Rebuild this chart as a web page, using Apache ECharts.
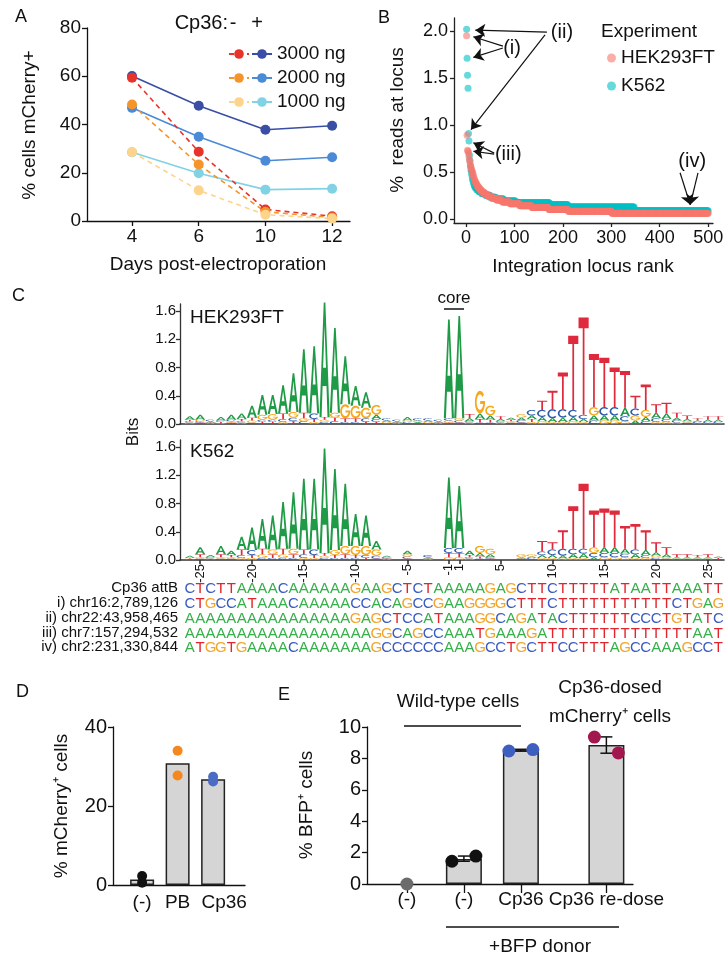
<!DOCTYPE html>
<html><head><meta charset="utf-8">
<script src="https://cdn.jsdelivr.net/npm/echarts@6/dist/echarts.min.js"></script>
<style>html,body{margin:0;padding:0;background:#fff}#c{width:726px;height:957px}</style>
</head><body><div id="c"></div>
<script>
// ===================== DATA =====================
// Panel A
const daysA = ['4', '6', '10', '12'];
const doseNames = ['3000 ng', '2000 ng', '1000 ng'];
const plus3000 = [60.1, 47.8, 37.8, 39.5];
const plus2000 = [46.9, 34.9, 25.0, 26.4];
const plus1000 = [28.5, 19.8, 13.0, 13.4];
const minus3000 = [59.4, 28.7, 4.8, 2.0];
const minus2000 = [48.3, 23.4, 3.8, 1.5];
const minus1000 = [28.6, 12.7, 2.6, 1.0];
const ticksA = [0, 20, 40, 60, 80];

// Panel B (runs of [% reads, number of loci], in rank order)
const hekRuns = [[1.95,1],[0.89,1],[0.73,1],[0.72,1],[0.70,1],[0.66,1],[0.63,1],[0.60,1],[0.57,1],[0.55,1],[0.53,1],[0.51,1],[0.50,1],[0.48,1],[0.46,1],[0.44,1],[0.42,1],
  [0.40,2],[0.38,2],[0.36,2],[0.34,3],[0.32,3],[0.30,4],[0.28,5],[0.26,6],[0.24,8],[0.22,10],[0.20,12],[0.18,16],[0.16,20],[0.14,25],[0.12,35],[0.10,40],[0.08,90],[0.06,200]];
const k562Runs = [[2.02,1],[1.71,1],[1.53,1],[1.39,1],[0.91,1],[0.83,1],[0.68,1],[0.62,1],[0.56,1],[0.52,1],[0.49,1],[0.46,1],[0.43,1],[0.41,1],[0.39,1],[0.37,1],
  [0.35,2],[0.33,3],[0.31,4],[0.29,6],[0.27,8],[0.25,10],[0.23,12],[0.21,16],[0.19,25],[0.17,70],[0.15,38],[0.125,137],[0.085,153]];
const rankTicks = [0, 100, 200, 300, 400, 500];
const readsTicks = [0, 0.5, 1.0, 1.5, 2.0];

// Panel C (letter heights in bits x100, per position -26..-1, 1..26)
const logoPositions = [-26,-25,-24,-23,-22,-21,-20,-19,-18,-17,-16,-15,-14,-13,-12,-11,-10,-9,-8,-7,-6,-5,-4,-3,-2,-1,
  1,2,3,4,5,6,7,8,9,10,11,12,13,14,15,16,17,18,19,20,21,22,23,24,25,26];
const logoTickPos = [-25,-20,-15,-10,-5,-1,1,5,10,15,20,25];
const bitsTicks = [0, 0.4, 0.8, 1.2, 1.6];
const logoHEK = [
  "A5 G2 C2 T2","A7 T2 C2 G2","A2 C2 G1 T1","A5 T2 C2 G1","A7 T2 G2 C2","A8 T3 G2 C2",
  "A17 T4 G3 C2","A28 G7 T3 C3","A27 G8 T3 C3","A40 T8 C4 G3","A55 G8 C5 T4","A90 T8 C4 G4",
  "A95 C8 T4 G3","A162 T4 C3 G3","A120 G7 T5 C4","A68 G20 T5 C3","A28 G18 T5 C3","A22 G15 C5 T3",
  "G14 A6 C4 T3","C3 G2 A2 T1","A2 C2 G1 T1","A5 C2 G2 T1","C3 A2 G2 T1","C3 G2 A2 T1","A2 C2 G1 T1",
  "A140 G3 C3 T2",
  "A145 C3 G3 T2","T6 A4 G2 C2","G32 A8 T5 C2","G14 A6 T4 C2","T4 A3 G2 C2","A3 C2 G2 T2",
  "G5 A4 C3 T2","C8 A5 T4 G3","T13 C10 A6 G4","T26 C13 A5 G3","T52 C12 A6 G3","T105 C10 A6 G4",
  "T138 C6 A4 G3","T75 G12 A7 C5","T70 C12 A7 G5","T56 C12 A7 G5","T52 A12 C7 G4","T18 C10 G7 A5",
  "T36 G10 A6 C4","T12 A8 C5 G3","T15 A8 C4 G3","T7 A4 C3 G2","T5 A3 C2 G2","T3 C2 A2 G1","T5 A3 C2 G1","T5 A3 C2 G1"];
const logoK562 = [
  "A3 C1 G1 T1","A10 T4 C2 G2","A3 C2 T1 G1","A12 T4 C2 G2","A6 T3 C2 G2","A18 T8 C4 G3",
  "A32 C7 T4 G3","A42 T8 G5 C3","A48 G7 T5 C3","A66 T8 G5 C3","A80 G8 T5 C3","A100 T7 C5 G3",
  "A100 C8 T4 G3","A148 T4 C3 G3","A115 G7 T4 C3","A88 G12 T5 C3","A45 G13 T4 C3","A43 G13 C4 T3",
  "A12 G9 C4 T2","C2 A2 G1 T1","A1","A5 C3 G3 T2","A1","C3 A2 G1 T1","A1",
  "A100 C7 T6 G4",
  "A88 C7 T6 G4","A6 T3 G2 C2","G10 A5 T3 C2","G8 A4 T2 C2","A1","A1",
  "G4 A2 C1 T1","G3 C2 A2 T1","T15 C5 A4 G3","T10 C8 A4 G3","T26 C10 A4 G2","T60 C8 A5 G3",
  "T92 C7 A6 G3","T52 G8 C6 A4","T55 A8 C6 G4","T52 A8 C6 G4","T32 A7 C5 G4","T36 C7 A5 G3",
  "T28 A7 C4 G3","T14 A5 C3 G3","T10 A4 C2 G2","T4 A2 C1 G1","T4 A2 C1 G1","T3 A2 C1 G1","T4 A2 C1 G1","T2 A2 C1"];
const seqNames = ['Cp36 attB', 'i) chr16:2,789,126', 'ii) chr22:43,958,465', 'iii) chr7:157,294,532', 'iv) chr2:231,330,844'];
const seqs = [
  'CTCTTAAAACAAAAAAGAAGCTCTAAAAAGAGCTTCTTTTTATAATTAAATT',
  'CTGCCATAAACAAAAACCACAGCCGAAGGGGCTTTCTTTTTTTTTTTCTGAG',
  'AAAAAAAAAAAAAAAAGAGCTCCATAAAGGCAGATACTTTTTTCCCTGTATC',
  'AAAAAAAAAAAAAAAAAAGGCAGCCAAATGAAAGATTTTTTTTTTTTTTAAT',
  'ATGGTGAAAACAAAAAAAGCCCCCCAAAGCCTGCTTCCTTTAGCCAAAGCCT'];

// Panel D
const dCats = ['(-)', 'PB', 'Cp36'];
const dBars = [1.4, 30.8, 26.8];
const dPoints = [[2.3, 0.6], [34.0, 27.7], [27.4, 26.2]];
const dTicks = [0, 20, 40];

// Panel E
const eCats = ['(-)', '(-)', 'Cp36', 'Cp36 re-dose'];
const eBars = [null, 1.6, 8.52, 8.85];
const ePoints = [[0], [1.45, 1.78], [8.47, 8.56], [9.36, 8.35]];
const eErr = [null, [1.45, 1.78], [8.47, 8.58], [8.33, 9.37]];
const eTicks = [0, 2, 4, 6, 8, 10];

// ===================== LAYOUT / STYLE =====================
const FONT = "'Liberation Sans', Arial, Helvetica, sans-serif";
const INK = '#111';
const E_SLOT = [0, 1, 2, 3.5];          // horizontal slot of each E category
const JIT = [-0.21, 0.21];              // dot spread within a bar (E)
const LETTERS = 'ACGT';
const LOGO_COL = ['#1f9a46', '#2b5bab', '#f5a81c', '#de2a3c'];
const SEQ_COL = ['#35b04a', '#3a5cc2', '#f2a52a', '#e2242c'];

function expandRuns(runs) { const out = []; let r = 1; runs.forEach(([v, n]) => { for (let k = 0; k < n; k++) out.push([r++, v]); }); return out; }

// glyph outlines in a unit box (y down)
function arc(cx, cy, rx, ry, a0, a1, n) { const p = []; for (let k = 0; k <= n; k++) { const a = (a0 + (a1 - a0) * k / n) * Math.PI / 180; p.push([cx + rx * Math.cos(a), cy - ry * Math.sin(a)]); } return p; }
function area(p) { let s = 0; for (let i = 0; i < p.length; i++) { const a = p[i], b = p[(i + 1) % p.length]; s += a[0] * b[1] - b[0] * a[1]; } return s; }
const gA_outer = [[0,1],[0.42,0],[0.58,0],[1,1],[0.79,1],[0.69,0.73],[0.31,0.73],[0.21,1]];
let gA_hole = [[0.36,0.57],[0.64,0.57],[0.5,0.2]];
if (Math.sign(area(gA_outer)) === Math.sign(area(gA_hole))) gA_hole = gA_hole.slice().reverse();
const gC = arc(0.5,0.5,0.5,0.5,42,318,36).concat(arc(0.5,0.5,0.33,0.34,318,42,36));
const gG = arc(0.5,0.5,0.5,0.5,40,356,36).concat([[1,0.45],[0.52,0.45],[0.52,0.58],[0.83,0.58]]).concat(arc(0.5,0.5,0.33,0.34,346,40,36));
const gT = [[0,0],[1,0],[1,0.11],[0.585,0.11],[0.585,1],[0.415,1],[0.415,0.11],[0,0.11]];
const GLYPH = [[gA_outer, gA_hole], [gC], [gG], [gT]];

function logoItems(cols) {
  const out = [];
  cols.forEach((s, i) => {
    const parts = s.trim().split(/\s+/).filter(Boolean).map(t => ({ l: LETTERS.indexOf(t[0]), h: +t.slice(1) / 100 }));
    parts.sort((a, b) => a.h - b.h);
    let y = 0;
    parts.forEach(p => { out.push([i, y, y + p.h, p.l]); y += p.h; });
  });
  return out;
}
function renderLetter(params, api) {
  const i = api.value(0), y0 = api.value(1), y1 = api.value(2), L = api.value(3);
  const pb = api.coord([i, y0]), pt = api.coord([i, y1]);
  const w = api.size([1, 0])[0] * 0.98;
  const x0 = pb[0] - w / 2, top = pt[1], h = pb[1] - pt[1];
  if (h < 0.4) return null;
  let d = '';
  GLYPH[L].forEach(poly => { d += 'M' + poly.map(p => (x0 + p[0] * w).toFixed(2) + ',' + (top + p[1] * h).toFixed(2)).join('L') + 'Z'; });
  return { type: 'path', shape: { pathData: d }, style: { fill: LOGO_COL[L] } };
}

function txt(x, y, text, size, o = {}) {
  return { type: 'text', x, y, rotation: o.rot || 0, silent: true, z: 100,
    style: { text, font: `${o.weight || 'normal'} ${size}px ${FONT}`, fill: o.fill || INK, textAlign: o.align || 'center', textVerticalAlign: o.va || 'middle' } };
}
function hline(x1, y, x2, w) { return { type: 'line', silent: true, z: 100, shape: { x1, y1: y, x2, y2: y }, style: { stroke: INK, lineWidth: w || 1.3 } }; }

function vAxis(gridIndex, min, max, ticks, o = {}) {
  return { type: 'value', gridIndex, min, max, splitLine: { show: false }, show: o.show !== false,
    axisLine: { show: o.line !== false, onZero: false, lineStyle: { color: o.lineColor || INK, width: o.lineWidth || 1.3 } },
    axisTick: { show: !!ticks && o.tick !== false, length: o.tickLen || 5, customValues: ticks || [], lineStyle: { color: o.lineColor || INK, width: o.lineWidth || 1.3 } },
    axisLabel: { show: !!ticks && o.label !== false, customValues: ticks || [], formatter: o.fmt, fontSize: o.fs || 18, color: INK, fontFamily: FONT, margin: o.margin != null ? o.margin : 6, rotate: o.rotate || 0, rich: o.rich } };
}

// ===================== SERIES =====================
const series = [];
// A
const plusSets = [plus3000, plus2000, plus1000];
const minusSets = [minus3000, minus2000, minus1000];
const plusCols = ['#3a4ea6', '#4a8ad6', '#82d2e6'];
const minusCols = ['#e8332a', '#f5942a', '#fdd48c'];
plusSets.forEach((d, k) => series.push({ type: 'line', name: doseNames[k], xAxisIndex: 0, yAxisIndex: 0, data: d.map((v, i) => [i, v]),
  symbol: 'circle', symbolSize: 10, z: 2, lineStyle: { color: plusCols[k], width: 1.6 }, itemStyle: { color: plusCols[k] } }));
minusSets.forEach((d, k) => series.push({ type: 'line', name: 'minus ' + doseNames[k], xAxisIndex: 0, yAxisIndex: 0, data: d.map((v, i) => [i, v]),
  symbol: 'circle', symbolSize: 10, z: 3, lineStyle: { color: minusCols[k], width: 1.6, type: [5, 4] }, itemStyle: { color: minusCols[k] } }));

// B
const annArrows = [[[167,1.99],[19,2.01]], [[163,1.96],[10,0.95]], [[76,1.84],[15,1.94]], [[76,1.82],[15,1.72]],
  [[58,0.70],[15,0.81]], [[58,0.69],[15,0.72]], [[442,0.49],[463,0.15]], [[479,0.49],[463,0.15]]];
const annLabels = [['(ii)',198,1.99],['(i)',95,1.82],['(iii)',87,0.68],['(iv)',467,0.61]];
series.push({ type: 'scatter', name: 'K562', xAxisIndex: 1, yAxisIndex: 1, data: expandRuns(k562Runs), symbolSize: 7,
  itemStyle: { color: '#00BFC4', opacity: 0.6 }, z: 2 });
series.push({ type: 'scatter', name: 'HEK293FT', xAxisIndex: 1, yAxisIndex: 1, data: expandRuns(hekRuns), symbolSize: 7,
  itemStyle: { color: '#F8766D', opacity: 0.6 }, z: 3,
  markLine: { silent: true, symbol: ['none', 'arrow'], symbolSize: 10, animation: false,
    lineStyle: { color: INK, width: 1.2, type: 'solid', opacity: 1 }, itemStyle: { color: INK },
    label: { show: false }, emphasis: { disabled: true },
    data: annArrows.map(a => [{ coord: a[0] }, { coord: a[1] }]) },
  markPoint: { silent: true, symbol: 'circle', symbolSize: 0.01, animation: false,
    label: { show: true, position: 'inside', formatter: '{b}', fontSize: 20, color: INK, fontFamily: FONT },
    data: annLabels.map(a => ({ name: a[0], coord: [a[1], a[2]] })) } });

// C logos
[[logoHEK, 2], [logoK562, 3]].forEach(([cols, gi]) => series.push({ type: 'custom', xAxisIndex: gi, yAxisIndex: gi, data: logoItems(cols),
  encode: { x: 0, y: [1, 2] }, renderItem: renderLetter, clip: false, silent: true }));
// sequences
const seqData = [];
seqs.forEach((s, r) => { for (let i = 0; i < Math.min(s.length, 52); i++) seqData.push([i, r, LETTERS.indexOf(s[i])]); });
series.push({ type: 'custom', xAxisIndex: 4, yAxisIndex: 4, data: seqData, encode: { x: 0, y: 1 }, silent: true,
  renderItem: (p, api) => { const c = api.coord([api.value(0), api.value(1)]); const L = api.value(2);
    return { type: 'text', x: c[0], y: c[1] + 1, style: { text: LETTERS[L], fill: SEQ_COL[L], font: `15px ${FONT}`, textAlign: 'center', textVerticalAlign: 'middle' } }; } });

// D
series.push({ type: 'bar', xAxisIndex: 5, yAxisIndex: 5, data: dBars.map((v, i) => [i, v]), barWidth: 24, z: 2,
  itemStyle: { color: '#d4d5d4', borderColor: '#222', borderWidth: 1.5 } });
const dCols = ['#111', '#f5871f', '#4a6cc4'];
dPoints.forEach((pts, i) => series.push({ type: 'scatter', xAxisIndex: 5, yAxisIndex: 5, data: pts.map(v => [i, v]), symbolSize: 10, z: 4,
  itemStyle: { color: dCols[i], opacity: 1 } }));

// E
series.push({ type: 'bar', xAxisIndex: 6, yAxisIndex: 6, data: eBars.map((v, i) => v == null ? null : [E_SLOT[i], v]).filter(Boolean), barWidth: 36, z: 2,
  itemStyle: { color: '#d4d5d4', borderColor: '#222', borderWidth: 1.5 } });
series.push({ type: 'custom', xAxisIndex: 6, yAxisIndex: 6, z: 3, silent: true,
  data: eErr.map((e, i) => e ? [E_SLOT[i], e[0], e[1]] : null).filter(Boolean), encode: { x: 0, y: [1, 2] },
  renderItem: (p, api) => { const x = api.value(0); const a = api.coord([x, api.value(1)]), b = api.coord([x, api.value(2)]); const cw = 6;
    const st = { stroke: INK, lineWidth: 1.5 };
    return { type: 'group', children: [
      { type: 'line', shape: { x1: a[0], y1: a[1], x2: b[0], y2: b[1] }, style: st },
      { type: 'line', shape: { x1: a[0] - cw, y1: a[1], x2: a[0] + cw, y2: a[1] }, style: st },
      { type: 'line', shape: { x1: b[0] - cw, y1: b[1], x2: b[0] + cw, y2: b[1] }, style: st }] }; } });
const eCols = ['#6b6b6b', '#111', '#3f5fc0', '#a3174f'];
ePoints.forEach((pts, i) => series.push({ type: 'scatter', xAxisIndex: 6, yAxisIndex: 6, z: 4, symbolSize: 13,
  data: pts.map((v, j) => [E_SLOT[i] + (pts.length > 1 ? JIT[j] : 0), v]), itemStyle: { color: eCols[i], opacity: 1 } }));

// ===================== AXES =====================
const logoIdx = p => logoPositions.indexOf(p);
const xAxis = [
  vAxis(0, -0.675, 3.268, [0, 1, 2, 3], { fmt: v => daysA[Math.round(v)], fs: 19 }),
  vAxis(1, -25, 510, rankTicks, { fs: 18, tickLen: 4, lineColor: '#222' }),
  vAxis(2, -0.95, 51.55, null, { lineColor: '#333', lineWidth: 1.6 }),
  vAxis(3, -0.95, 51.55, logoTickPos.map(logoIdx), { lineColor: '#333', lineWidth: 1.6, tickLen: 4, rotate: 90, fs: 13, margin: 4,
    fmt: v => String(logoPositions[Math.round(v)]) }),
  vAxis(4, -0.95, 51.55, null, { show: false }),
  vAxis(5, -0.82, 2.898, [0, 1, 2], { tick: false, fs: 19, margin: 8,
    fmt: v => { const i = Math.round(v); return i === 2 ? '{c|' + dCats[i] + '}' : dCats[i]; },
    rich: { c: { fontSize: 19, fontFamily: FONT, color: INK, padding: [0, 0, 0, 22] } } }),
  vAxis(6, -0.70, 3.967, E_SLOT, { fs: 19, tickLen: 9, margin: 6, fmt: v => eCats[E_SLOT.indexOf(v)] })
];
const yAxis = [
  vAxis(0, 0, 80, ticksA, { fs: 19 }),
  vAxis(1, -0.045, 2.14, readsTicks, { fs: 18, tickLen: 4, lineColor: '#222', fmt: v => v.toFixed(1) }),
  vAxis(2, 0, 1.7, bitsTicks, { fs: 15, tickLen: 4, lineColor: '#333', fmt: v => v.toFixed(1), margin: 4 }),
  vAxis(3, 0, 1.7, bitsTicks, { fs: 15, tickLen: 4, lineColor: '#333', fmt: v => v.toFixed(1), margin: 4 }),
  { type: 'category', gridIndex: 4, data: seqNames, inverse: true, axisLine: { show: false }, axisTick: { show: false },
    axisLabel: { interval: 0, fontSize: 15, color: INK, fontFamily: FONT, margin: 2 } },
  vAxis(5, 0, 40, dTicks, { fs: 20 }),
  vAxis(6, 0, 10, eTicks, { fs: 20 })
];
const grid = [
  { left: 87, top: 28, width: 263, height: 193 },
  { left: 454, top: 18, width: 259, height: 205 },
  { left: 180, top: 304, width: 544, height: 120 },
  { left: 180, top: 440, width: 544, height: 120 },
  { left: 180, top: 581, width: 544, height: 73.5 },
  { left: 113, top: 727, width: 132, height: 158 },
  { left: 367, top: 727, width: 266, height: 157 }
].map(g => Object.assign(g, { outerBoundsMode: 'none', containLabel: false }));

// ===================== FREE TEXT =====================
const graphics = [
  txt(15, 17, 'A', 18, { align: 'left' }), txt(378, 18, 'B', 18, { align: 'left' }), txt(12, 296, 'C', 18, { align: 'left' }),
  txt(16, 692, 'D', 18, { align: 'left' }), txt(278, 695, 'E', 18, { align: 'left' }),
  // A
  txt(228, 23, 'Cp36:', 20, { align: 'right' }), txt(233, 23, '-', 20), txt(257, 23, '+', 20),
  txt(30, 125, '% cells mCherry+', 19, { rot: Math.PI / 2 }),
  txt(218, 265, 'Days post-electroporation', 19),
  // B
  txt(398, 120, '%  reads at locus', 19, { rot: Math.PI / 2 }),
  txt(583, 267, 'Integration locus rank', 19),
  txt(601, 32, 'Experiment', 19, { align: 'left' }),
  // C
  txt(190, 318, 'HEK293FT', 19, { align: 'left' }), txt(190, 452, 'K562', 19, { align: 'left' }),
  txt(133, 432, 'Bits', 17, { rot: Math.PI / 2 }),
  txt(454, 298, 'core', 17), hline(444, 309, 464, 1.5),
  // D
  txt(62, 806, '% mCherry\u207A cells', 19, { rot: Math.PI / 2 }),
  // E
  txt(307, 805, '% BFP\u207A cells', 19, { rot: Math.PI / 2 }),
  txt(458, 702, 'Wild-type cells', 19), hline(404, 726, 521),
  txt(610, 688, 'Cp36-dosed', 19), txt(610, 717, 'mCherry\u207A cells', 19),
  hline(446, 927, 619), txt(540, 947, '+BFP donor', 19)
];

const option = {
  animation: false,
  textStyle: { fontFamily: FONT },
  grid, xAxis, yAxis, series,
  legend: [
    { data: doseNames.map(n => 'minus ' + n), left: 223, top: 37, orient: 'vertical', itemWidth: 20, itemHeight: 12, itemGap: 0,
      formatter: () => ' ', selectedMode: false, textStyle: { fontSize: 19, lineHeight: 24, color: INK } },
    { data: doseNames, left: 246, top: 37, orient: 'vertical', itemWidth: 20, itemHeight: 12, itemGap: 0,
      selectedMode: false, textStyle: { fontSize: 19, lineHeight: 24, color: INK, fontFamily: FONT } },
    { data: ['HEK293FT', 'K562'], left: 602, top: 39, orient: 'vertical', icon: 'circle', itemWidth: 9, itemHeight: 9, itemGap: 0,
      selectedMode: false, textStyle: { fontSize: 19, lineHeight: 28, color: INK, fontFamily: FONT } }
  ],
  graphic: graphics
};
const chart = echarts.init(document.getElementById('c'));
chart.setOption(option);
</script>
</body></html>
